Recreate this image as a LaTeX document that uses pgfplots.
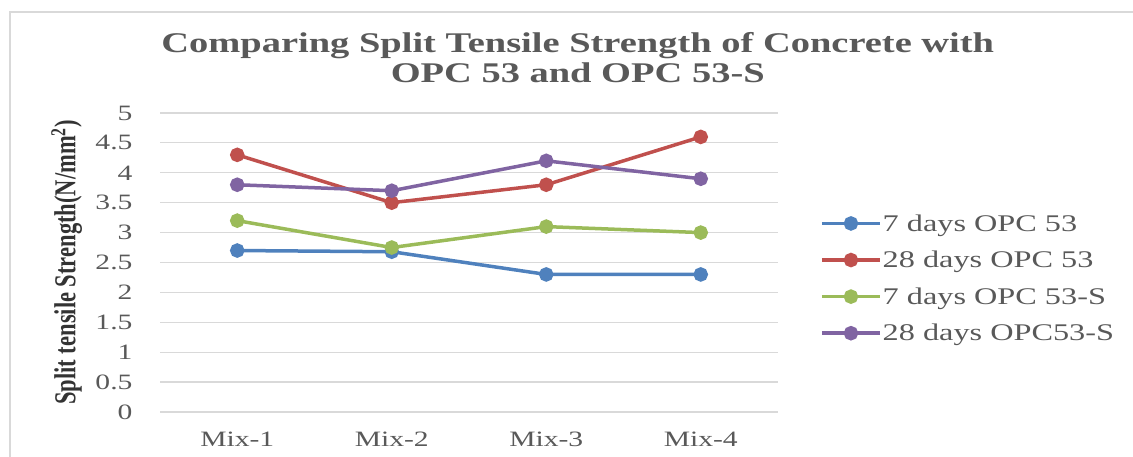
\documentclass[border=0pt]{standalone}
\usepackage{fontspec}
\setmainfont[FakeStretch=1.35]{Liberation Serif}
\newfontfamily\ylfont{Liberation Serif}
\usepackage{pgfplots}
\pgfplotsset{compat=1.18}
\definecolor{cblue}{HTML}{4F81BD}
\definecolor{cred}{HTML}{C0504D}
\definecolor{cgreen}{HTML}{9BBB59}
\definecolor{cpurple}{HTML}{8064A2}
\definecolor{txt}{HTML}{595959}
\definecolor{grd}{HTML}{D9D9D9}
\begin{document}
\begin{tikzpicture}[x=1bp,y=1bp]
\path[use as bounding box] (0,0) rectangle (1133,457);
\draw[grd, line width=1.2bp] (10,0) -- (10,445) -- (1133,445);
\begin{axis}[
  at={(160bp,45bp)}, anchor=south west,
  scale only axis, width=618bp, height=299bp,
  xmin=-0.5, xmax=3.5, ymin=0, ymax=5,
  xtick={0,1,2,3}, xticklabels={Mix-1,Mix-2,Mix-3,Mix-4},
  ytick={0,0.5,...,5},
  /pgf/number format/assume math mode=true,
  yticklabel style={font=\fontsize{22}{26}\selectfont, text=txt, anchor=east, xshift=-24bp},
  xticklabel style={font=\fontsize{22}{26}\selectfont, text=txt, anchor=center, yshift=-27bp},
  major tick length=0pt,
  axis line style={draw=none},
  ymajorgrids, grid style={grd, line width=1.2bp},
  ylabel={Split tensile Strength(N/mm\textsuperscript{2})},
  ylabel style={font=\ylfont\bfseries\fontsize{22.6}{26}\selectfont, text=black!80, at={(axis description cs:-0.151,0.5)}, anchor=center, yscale=1.35},
  title={Comparing Split Tensile Strength of Concrete with\\OPC 53 and OPC 53-S},
  title style={font=\bfseries\fontsize{28.6}{29.5}\selectfont, text=txt, align=center, at={(axis description cs:0.676,1)}, anchor=south, yshift=21bp},
  legend style={at={(axis description cs:1.068,0.447)}, anchor=west, draw=none, fill=none,
    font=\fontsize{24}{26}\selectfont, text=txt, inner sep=0pt, row sep=16.5bp,
    nodes={inner sep=1bp, anchor=west}},
  legend cell align=left,
  legend image code/.code={\draw[#1, mark repeat=2, mark phase=2] plot coordinates {(0bp,0bp) (29bp,0bp) (58bp,0bp)};},
  every axis plot/.append style={line width=3.5bp, mark=*, mark size=5.5bp, mark options={solid}},
]
\addplot[cblue] coordinates {(0,2.7) (1,2.68) (2,2.3) (3,2.3)};
\addlegendentry{7 days OPC 53}
\addplot[cred] coordinates {(0,4.3) (1,3.5) (2,3.8) (3,4.6)};
\addlegendentry{28 days OPC 53}
\addplot[cgreen] coordinates {(0,3.2) (1,2.75) (2,3.1) (3,3.0)};
\addlegendentry{7 days OPC 53-S}
\addplot[cpurple] coordinates {(0,3.8) (1,3.7) (2,4.2) (3,3.9)};
\addlegendentry{28 days OPC53-S}
\end{axis}
\end{tikzpicture}
\end{document}
